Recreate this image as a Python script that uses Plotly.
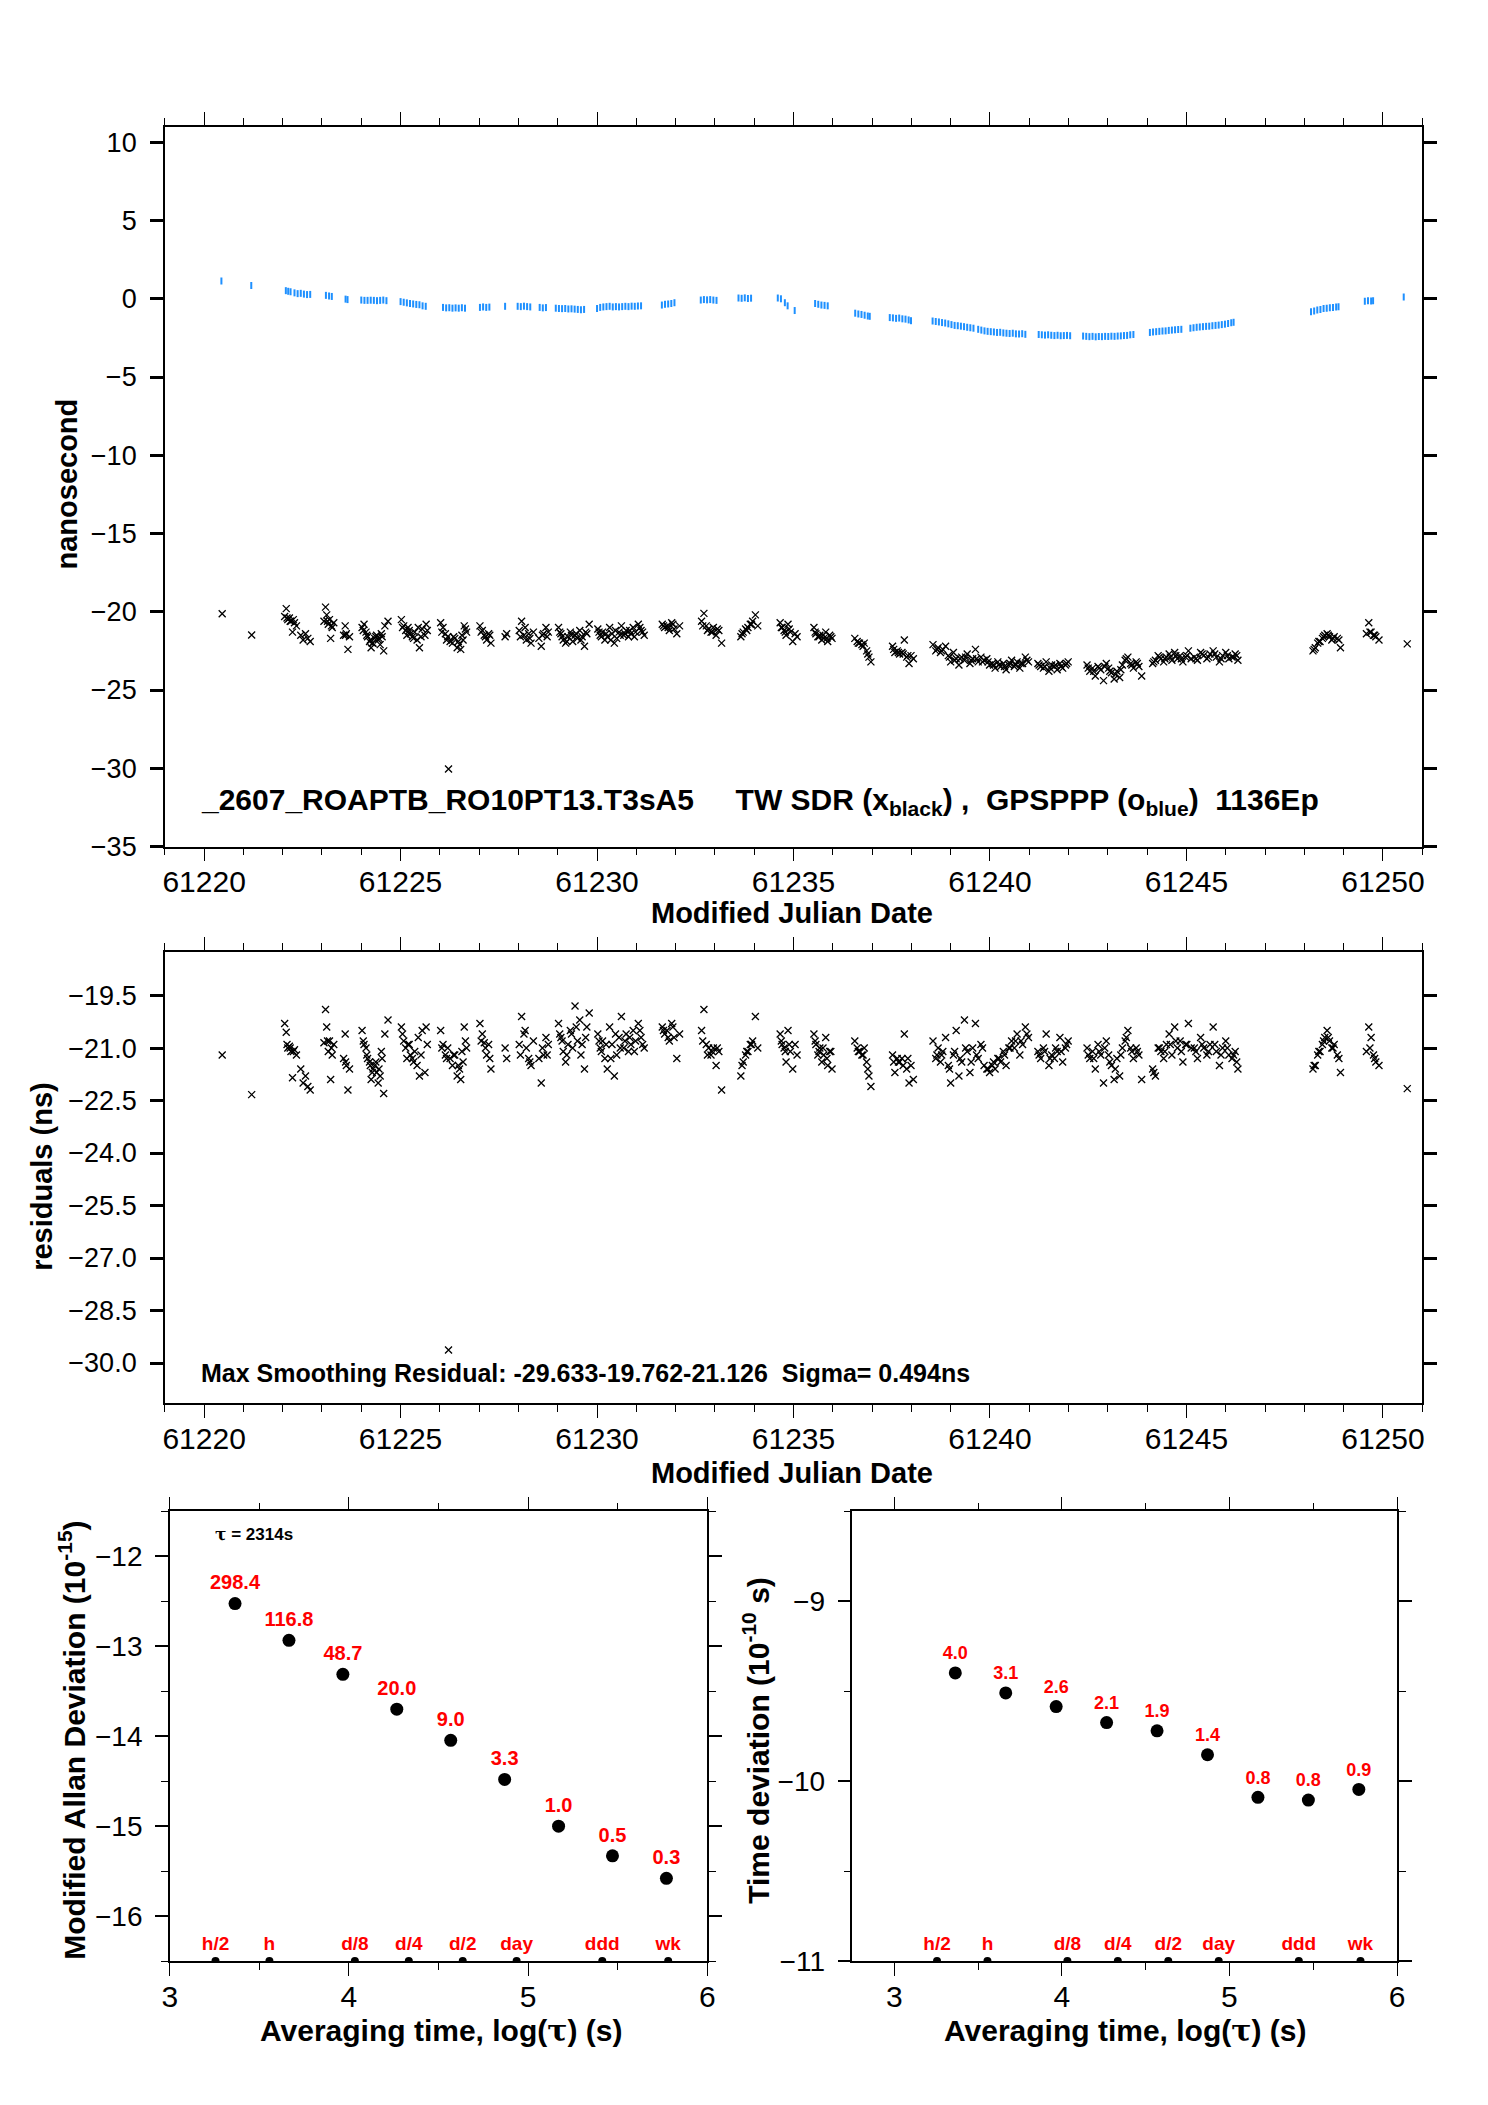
import plotly.graph_objects as go

FONT = "Liberation Sans, Arial, sans-serif"
BLUE = "#1E90FF"
RED = "#FF0000"

# TW SDR session points (x marks), MJD and offset in ns; residuals share the MJDs
mjd_tw = [
    61220.46,
    61221.21,
    61222.05, 61222.09, 61222.13, 61222.17, 61222.21, 61222.25, 61222.30, 61222.35,
    61222.46, 61222.52, 61222.58, 61222.64, 61222.70,
    61223.05, 61223.09, 61223.12, 61223.16, 61223.19, 61223.22, 61223.26, 61223.30,
    61223.55, 61223.59, 61223.62, 61223.66, 61223.70,
    61224.02, 61224.07, 61224.12, 61224.16, 61224.21, 61224.25, 61224.30, 61224.34, 61224.39, 61224.43, 61224.48, 61224.53, 61224.60, 61224.68,
    61225.02, 61225.08, 61225.13, 61225.19, 61225.25, 61225.30, 61225.36, 61225.42, 61225.48, 61225.55, 61225.62, 61225.68,
    61226.02, 61226.08, 61226.14, 61226.20, 61226.22, 61226.26, 61226.32, 61226.38, 61226.44, 61226.50, 61226.56, 61226.62, 61226.68,
    61227.02, 61227.08, 61227.13, 61227.19, 61227.24, 61227.30,
    61227.66, 61227.70,
    61228.02, 61228.08, 61228.14, 61228.20, 61228.26, 61228.32, 61228.38,
    61228.52, 61228.58, 61228.64, 61228.70, 61228.76,
    61229.02, 61229.08, 61229.14, 61229.20, 61229.26, 61229.32, 61229.38, 61229.44, 61229.50, 61229.56, 61229.62, 61229.68, 61229.74, 61229.80,
    61230.02, 61230.08, 61230.14, 61230.20, 61230.26, 61230.32, 61230.38, 61230.44, 61230.50, 61230.56, 61230.62, 61230.68, 61230.74, 61230.80, 61230.86, 61230.92, 61230.98, 61231.05, 61231.12, 61231.20,
    61231.66, 61231.72, 61231.78, 61231.84, 61231.90, 61231.96, 61232.03, 61232.10,
    61232.66, 61232.72, 61232.78, 61232.84, 61232.90, 61232.96, 61233.03, 61233.10, 61233.17,
    61233.66, 61233.72, 61233.78, 61233.84, 61233.90, 61233.96, 61234.03, 61234.09,
    61234.66, 61234.71, 61234.76, 61234.81, 61234.86, 61234.92, 61234.98, 61235.04, 61235.09,
    61235.52, 61235.57, 61235.62, 61235.67, 61235.72, 61235.77, 61235.82, 61235.87, 61235.92, 61235.98,
    61236.56, 61236.62, 61236.68, 61236.74, 61236.80, 61236.86, 61236.92, 61236.97,
    61237.52, 61237.58, 61237.64, 61237.70, 61237.76, 61237.82, 61237.88, 61237.94, 61237.99, 61238.05,
    61238.55, 61238.62, 61238.68, 61238.74, 61238.80, 61238.87,
    61238.94, 61239.00, 61239.07, 61239.14, 61239.21, 61239.28, 61239.35, 61239.42, 61239.49, 61239.56, 61239.63, 61239.70, 61239.77, 61239.85,
    61239.92, 61239.99, 61240.06, 61240.13, 61240.20, 61240.27, 61240.34, 61240.41, 61240.48, 61240.55, 61240.62, 61240.69, 61240.76, 61240.83, 61240.90, 61240.98,
    61241.22, 61241.29, 61241.36, 61241.43, 61241.50, 61241.57, 61241.64, 61241.71, 61241.78, 61241.85, 61241.92, 61241.99,
    61242.47, 61242.54, 61242.61, 61242.68, 61242.75, 61242.82, 61242.89, 61242.96,
    61243.02, 61243.09, 61243.16, 61243.23, 61243.30, 61243.37, 61243.44, 61243.51, 61243.58, 61243.65, 61243.72, 61243.79, 61243.86,
    61244.14, 61244.21, 61244.28, 61244.35, 61244.42, 61244.49, 61244.56, 61244.63, 61244.70, 61244.77, 61244.84, 61244.91, 61244.98, 61245.05, 61245.12,
    61245.20, 61245.28, 61245.36, 61245.44, 61245.52, 61245.60, 61245.68, 61245.76, 61245.84, 61245.92, 61246.00, 61246.08, 61246.16, 61246.24, 61246.31,
    61248.22, 61248.28, 61248.34, 61248.40, 61248.46, 61248.52, 61248.58, 61248.64, 61248.70, 61248.76, 61248.84, 61248.92,
    61249.58, 61249.64, 61249.70, 61249.76, 61249.82, 61249.90,
    61250.62,
]
tw_ns = [
    -20.13,
    -21.48,
    -20.3, -19.8, -20.5, -20.4, -20.6, -21.3, -20.7, -20.9,
    -21.5, -21.8, -21.4, -21.7, -21.9,
    -20.6, -19.7, -20.2, -20.8, -20.5, -21.7, -21.0, -20.7,
    -21.5, -20.9, -21.4, -22.4, -21.6,
    -21.0, -20.8, -21.3, -21.6, -21.9, -22.3, -22.0, -21.7, -21.5, -21.8, -22.1, -21.6, -20.9, -20.6,
    -20.5, -20.9, -21.2, -21.0, -21.4, -21.6, -21.3, -21.8, -22.3, -21.1, -21.5, -21.2,
    -20.7, -21.0, -21.4, -21.6, -30.05, -21.9, -22.0, -21.7, -22.3, -22.1, -21.5, -20.9, -21.3,
    -20.9, -21.2, -21.5, -21.8, -21.4, -22.0,
    -21.6, -21.4,
    -21.2, -20.6, -21.5, -21.8, -21.4, -22.0, -21.3,
    -21.7, -22.2, -21.4, -21.0, -21.3,
    -21.0, -21.4, -21.8, -22.0, -21.6, -21.3, -21.9, -21.5, -21.7, -21.2, -21.6, -22.2, -21.4, -20.8,
    -21.1, -21.5, -21.3, -21.8, -21.6, -21.0, -21.4, -22.0, -21.7, -21.3, -20.9, -21.5, -21.2, -21.6, -21.4, -21.0, -21.3, -20.8, -21.2, -21.5,
    -20.8, -21.0, -20.9, -21.2, -20.7, -21.1, -21.4, -20.9,
    -20.6, -20.1, -20.9, -21.1, -21.3, -21.0, -21.5, -21.2, -22.0,
    -21.6, -21.3, -21.1, -21.0, -20.8, -20.6, -20.2, -20.9,
    -20.7, -21.0, -21.2, -21.5, -20.8, -21.3, -21.9, -21.4, -21.6,
    -21.0, -21.4, -21.6, -21.5, -21.8, -21.7, -21.3, -21.9, -21.5, -21.7,
    -21.7, -21.9, -22.0, -22.1, -22.0, -22.5, -22.9, -23.2,
    -22.2, -22.6, -22.5, -22.7, -22.6, -21.8, -22.9, -23.3, -22.8, -23.0,
    -22.1, -22.5, -22.3, -22.6, -22.4, -22.2,
    -22.8, -23.2, -22.6, -23.0, -23.4, -22.9, -23.1, -22.7, -23.3, -23.0, -22.4, -23.2, -22.9, -23.1,
    -23.0, -23.4, -23.3, -23.6, -23.2, -23.5, -23.3, -23.7, -23.4, -23.1, -23.5, -23.2, -23.6, -23.3, -22.9, -23.2,
    -23.3, -23.5, -23.6, -23.2, -23.8, -23.4, -23.5, -23.7, -23.3, -23.6, -23.4, -23.2,
    -23.4, -23.8, -23.6, -24.1, -23.5, -23.7, -24.4, -23.3,
    -23.6, -23.9, -24.3, -23.8, -24.2, -23.4, -23.1, -22.9, -23.3, -23.6, -23.2, -23.5, -24.1,
    -23.3, -23.1, -22.8, -23.0, -23.2, -22.9, -22.7, -23.1, -22.6, -23.0, -22.8, -23.2, -22.9, -22.5, -23.0,
    -22.9, -23.1, -22.6, -22.8, -23.0, -22.7, -22.5, -22.9, -23.2, -22.8, -22.6, -23.0, -22.9, -22.7, -23.1,
    -22.5, -22.3, -22.0, -21.9, -21.7, -21.5, -21.4, -21.6, -21.8, -21.6, -21.7, -22.3,
    -21.4, -20.7, -21.3, -21.5, -21.6, -21.8,
    -22.05,
]
res_ns = [
    -21.2,
    -22.33,
    -20.3, -20.55, -21.0, -20.95, -21.1, -21.85, -21.05, -21.2,
    -21.6, -22.0, -21.8, -22.1, -22.2,
    -20.85, -19.9, -20.4, -21.1, -20.8, -21.9, -21.2, -20.9,
    -21.3, -20.6, -21.5, -22.2, -21.6,
    -20.5, -20.9, -21.0, -21.3, -21.4, -21.9, -21.6, -21.5, -21.7, -22.0, -21.8, -21.3, -20.6, -20.2,
    -20.4, -20.8, -21.0, -20.9, -21.2, -21.3, -21.1, -21.5, -21.8, -20.5, -21.7, -20.9,
    -20.5, -20.9, -21.2, -21.0, -29.63, -21.3, -21.5, -21.2, -21.8, -21.6, -21.1, -20.4, -21.0,
    -20.3, -20.6, -20.85, -21.2, -20.9, -21.6,
    -21.0, -21.3,
    -20.9, -20.1, -20.6, -21.0, -21.3, -21.5, -20.8,
    -21.3, -22.0, -21.2, -20.7, -20.9,
    -20.3, -20.7, -21.1, -21.4, -20.9, -20.5, -21.0, -19.8, -20.8, -20.2, -20.9, -21.6, -20.4, -20.0,
    -20.6, -21.0, -20.8, -21.3, -21.6, -20.4, -20.9, -21.8, -21.2, -20.7, -20.1, -21.0, -20.6, -21.1, -20.9, -20.5, -20.8, -20.3, -20.7, -21.0,
    -20.4, -20.6, -20.5, -20.8, -20.3, -20.7, -21.3, -20.6,
    -20.5, -19.9, -20.9, -21.0, -21.2, -21.0, -21.5, -21.1, -22.2,
    -21.8, -21.4, -21.2, -21.1, -20.9, -20.8, -20.1, -21.0,
    -20.6, -20.9, -21.0, -21.4, -20.5, -21.1, -21.6, -20.9, -21.2,
    -20.6, -20.9, -21.2, -21.0, -21.4, -21.2, -20.7, -21.5, -21.1, -21.6,
    -20.8, -21.0, -21.1, -21.2, -21.0, -21.4, -21.8, -22.1,
    -21.2, -21.7, -21.3, -21.4, -21.3, -20.6, -21.6, -22.0, -21.5, -21.9,
    -20.8, -21.3, -21.0, -21.4, -21.1, -20.7,
    -21.5, -22.0, -21.2, -20.5, -21.8, -21.4, -20.2, -21.1, -21.7, -21.0, -20.3, -21.3, -20.9, -21.5,
    -21.6, -21.7, -21.5, -21.6, -21.3, -21.4, -21.1, -21.5, -21.0, -20.8, -21.0, -20.6, -21.2, -20.9, -20.4, -20.7,
    -21.1, -21.3, -21.0, -20.6, -21.5, -21.2, -21.3, -21.1, -20.7, -21.4, -21.0, -20.8,
    -21.0, -21.3, -21.1, -21.6, -20.9, -21.2, -22.0, -20.8,
    -21.2, -21.5, -21.9, -21.3, -21.8, -21.0, -20.8, -20.5, -21.0, -21.3, -21.0, -21.2, -21.9,
    -21.6, -21.8, -21.0, -21.1, -21.3, -20.9, -20.6, -21.2, -20.4, -21.0, -20.8, -21.4, -20.9, -20.3, -21.0,
    -21.0, -21.3, -20.7, -21.0, -21.2, -20.9, -20.4, -21.1, -21.5, -21.0, -20.8, -21.2, -21.3, -21.1, -21.6,
    -21.6, -21.5, -21.2, -21.1, -20.9, -20.7, -20.5, -20.8, -21.0, -20.9, -21.2, -21.7,
    -21.1, -20.4, -20.7, -21.2, -21.4, -21.5,
    -22.16,
]

# extra TW points in the dense session cores
mjd_tw_b = [
    61222.11, 61222.19, 61222.27, 61223.14, 61223.24, 61223.60,
    61224.05, 61224.14, 61224.23, 61224.28, 61224.37, 61224.45, 61224.51, 61224.57,
    61225.05, 61225.16, 61225.22, 61225.33, 61225.45, 61225.52, 61225.65,
    61226.05, 61226.17, 61226.35, 61226.47, 61226.53, 61226.59, 61226.65,
    61227.05, 61227.16, 61227.27, 61228.05, 61228.17, 61228.29, 61228.61, 61228.73,
    61229.05, 61229.11, 61229.23, 61229.35, 61229.47, 61229.59, 61229.71,
    61230.05, 61230.11, 61230.23, 61230.35, 61230.47, 61230.59, 61230.71, 61230.83, 61230.95, 61231.09, 61231.16,
    61231.69, 61231.81, 61231.93, 61232.69, 61232.81, 61232.93, 61233.06,
    61233.69, 61233.81, 61233.93, 61234.69, 61234.79, 61234.89,
    61235.55, 61235.65, 61235.75, 61235.85, 61235.95, 61236.65, 61236.77, 61236.89,
    61237.55, 61237.67, 61237.79, 61237.91, 61238.65, 61238.77,
    61238.97, 61239.10, 61239.24, 61239.38, 61239.52, 61239.66, 61239.81,
    61239.95, 61240.09, 61240.23, 61240.37, 61240.51, 61240.65, 61240.79, 61240.94,
    61241.25, 61241.39, 61241.53, 61241.67, 61241.81, 61241.95,
    61242.50, 61242.64, 61242.78, 61242.92, 61243.05, 61243.19, 61243.33, 61243.47, 61243.61, 61243.75,
    61244.17, 61244.31, 61244.45, 61244.59, 61244.73, 61244.87, 61245.01,
    61245.24, 61245.40, 61245.56, 61245.72, 61245.88, 61246.04, 61246.20, 61246.28,
    61248.25, 61248.37, 61248.49, 61248.61, 61248.73, 61248.88, 61249.67, 61249.79,
]
tw_ns_b = [
    -20.4, -20.6, -20.5, -20.6, -20.9, -21.5,
    -21.2, -21.5, -21.8, -22.0, -21.6, -21.7, -21.4, -22.5,
    -21.0, -21.5, -21.2, -21.7, -21.0, -21.6, -20.8,
    -21.3, -21.8, -21.6, -21.9, -22.4, -21.8, -21.1,
    -21.3, -21.6, -21.5, -21.6, -21.0, -21.7, -21.5, -21.6,
    -21.3, -21.6, -21.9, -21.5, -21.4, -21.8, -21.3,
    -21.3, -21.6, -21.4, -21.8, -21.2, -21.5, -21.4, -21.2, -21.6, -21.0, -21.3,
    -20.9, -21.0, -20.8, -20.9, -21.2, -21.3, -21.1,
    -21.4, -21.2, -20.8, -21.0, -21.3, -21.1,
    -21.3, -21.6, -21.5, -21.7, -21.6, -22.0, -22.2, -22.7,
    -22.4, -22.6, -22.7, -22.8, -22.4, -22.5,
    -22.9, -23.1, -23.0, -22.9, -23.1, -23.0, -23.2,
    -23.2, -23.4, -23.4, -23.5, -23.3, -23.4, -23.3, -23.1,
    -23.4, -23.5, -23.6, -23.4, -23.5, -23.3,
    -23.6, -23.8, -23.6, -23.5, -23.8, -24.0, -23.7, -23.0, -23.4, -23.3,
    -23.2, -22.9, -23.0, -22.9, -22.8, -23.0, -22.8,
    -23.0, -22.7, -22.9, -22.7, -23.0, -22.8, -22.9, -22.8,
    -22.4, -21.9, -21.6, -21.5, -21.7, -21.8, -21.3, -21.5,
]
res_ns_b = [
    -20.9, -21.0, -21.1, -20.8, -21.0, -21.4,
    -20.8, -21.2, -21.5, -21.7, -21.4, -21.6, -21.1, -22.3,
    -20.6, -21.3, -20.9, -21.4, -20.7, -21.2, -20.4,
    -21.0, -21.3, -21.2, -21.5, -21.9, -21.4, -20.8,
    -20.8, -21.0, -21.3, -21.2, -20.5, -21.4, -21.0, -21.2,
    -20.6, -20.8, -21.2, -20.6, -20.4, -21.2, -20.7,
    -20.8, -21.1, -20.9, -21.3, -20.6, -21.0, -20.8, -20.7, -21.1, -20.5, -20.9,
    -20.5, -20.7, -20.4, -20.8, -21.2, -21.1, -21.0,
    -21.5, -21.1, -20.9, -20.8, -21.1, -20.9,
    -20.8, -21.1, -21.0, -21.3, -21.1, -21.1, -21.2, -21.6,
    -21.4, -21.4, -21.5, -21.3, -21.2, -21.2,
    -21.6, -21.1, -21.3, -21.0, -21.4, -21.2, -21.0,
    -21.6, -21.4, -21.3, -21.2, -21.0, -20.8, -20.8, -20.6,
    -21.2, -21.1, -21.3, -21.0, -21.1, -20.9,
    -21.2, -21.3, -21.1, -21.0, -21.4, -21.6, -21.2, -20.7, -21.1, -21.1,
    -21.7, -21.0, -21.1, -20.9, -20.8, -21.1, -20.9,
    -21.1, -20.9, -21.1, -20.9, -21.2, -21.0, -21.2, -21.4,
    -21.5, -21.1, -20.8, -20.7, -21.0, -21.3, -21.0, -21.3,
]

# GPSPPP points (blue)
mjd_ppp = [
    61220.44, 61221.20,
    61222.08, 61222.14, 61222.20, 61222.30, 61222.38, 61222.46, 61222.54, 61222.62, 61222.70,
    61223.10, 61223.18, 61223.25, 61223.60, 61223.65,
    61224.00, 61224.08, 61224.16, 61224.24, 61224.32, 61224.40, 61224.48, 61224.56, 61224.64,
    61225.00, 61225.08, 61225.16, 61225.24, 61225.32, 61225.40, 61225.48, 61225.56, 61225.64,
    61226.08, 61226.16, 61226.24, 61226.32, 61226.40, 61226.48, 61226.56, 61226.64,
    61227.02, 61227.10, 61227.18, 61227.26, 61227.66, 61227.98,
    61228.06, 61228.14, 61228.22, 61228.30, 61228.54, 61228.62, 61228.70, 61228.95,
    61229.03, 61229.11, 61229.19, 61229.27, 61229.35, 61229.43, 61229.51, 61229.59, 61229.67,
    61230.00, 61230.08, 61230.16, 61230.24, 61230.32, 61230.40, 61230.48, 61230.56, 61230.64, 61230.72, 61230.80, 61230.88, 61230.96, 61231.04, 61231.12,
    61231.65, 61231.73, 61231.81, 61231.89, 61231.97,
    61232.64, 61232.72, 61232.80, 61232.88, 61232.96, 61233.04,
    61233.60, 61233.68, 61233.76, 61233.84, 61233.92,
    61234.60, 61234.68, 61234.78, 61234.85, 61235.03,
    61235.55, 61235.63, 61235.71, 61235.79, 61235.87,
    61236.57, 61236.65, 61236.73, 61236.81, 61236.89, 61236.94,
    61237.45, 61237.53, 61237.61, 61237.69, 61237.77, 61237.85, 61237.93, 61237.99,
    61238.54, 61238.62, 61238.70, 61238.78, 61238.86, 61238.94, 61239.02, 61239.10, 61239.18, 61239.26, 61239.34, 61239.42, 61239.50, 61239.58,
    61239.70, 61239.78, 61239.86, 61239.94, 61240.02, 61240.10, 61240.18, 61240.26, 61240.34, 61240.42, 61240.50, 61240.58, 61240.66, 61240.74, 61240.82, 61240.90,
    61241.24, 61241.32, 61241.40, 61241.48, 61241.56, 61241.64, 61241.72, 61241.80, 61241.88, 61241.96, 61242.04,
    61242.37, 61242.45, 61242.53, 61242.61, 61242.69, 61242.77, 61242.85, 61242.93, 61243.01, 61243.09, 61243.17, 61243.25, 61243.33, 61243.41, 61243.49, 61243.57, 61243.65,
    61244.07, 61244.15, 61244.23, 61244.31, 61244.39, 61244.47, 61244.55, 61244.63, 61244.71, 61244.79, 61244.87,
    61245.10, 61245.18, 61245.26, 61245.34, 61245.42, 61245.50, 61245.58, 61245.66, 61245.74, 61245.82, 61245.90, 61245.98, 61246.06, 61246.14, 61246.20,
    61248.17, 61248.25, 61248.33, 61248.41, 61248.49, 61248.57, 61248.65, 61248.73, 61248.81, 61248.87,
    61249.54, 61249.62, 61249.70, 61249.75,
    61250.53,
]
ppp_ns = [
    1.13, 0.85,
    0.52, 0.48, 0.45, 0.38, 0.33, 0.35, 0.30, 0.27, 0.28,
    0.22, 0.18, 0.15, -0.02, -0.05,
    -0.08, -0.10, -0.10, -0.09, -0.10, -0.12, -0.10, -0.08, -0.12,
    -0.18, -0.22, -0.26, -0.30, -0.33, -0.36, -0.38, -0.45, -0.48,
    -0.55, -0.58, -0.57, -0.60, -0.58, -0.60, -0.57, -0.60,
    -0.55, -0.52, -0.55, -0.53, -0.48, -0.48,
    -0.50, -0.47, -0.50, -0.52, -0.55, -0.58, -0.56, -0.60,
    -0.62, -0.63, -0.62, -0.65, -0.64, -0.66, -0.68, -0.70, -0.68,
    -0.62, -0.55, -0.52, -0.50, -0.48, -0.52, -0.50, -0.52, -0.50, -0.48, -0.50, -0.47, -0.48, -0.46, -0.45,
    -0.40, -0.35, -0.33, -0.30, -0.25,
    -0.08, -0.05, -0.07, -0.05, -0.08, -0.10,
    0.05, 0.03, 0.06, 0.02, 0.04,
    0.05, 0.00, -0.25, -0.45, -0.75,
    -0.30, -0.35, -0.40, -0.42, -0.45,
    -0.92, -0.97, -1.00, -1.05, -1.10, -1.12,
    -1.20, -1.22, -1.25, -1.23, -1.28, -1.30, -1.35, -1.40,
    -1.42, -1.45, -1.48, -1.52, -1.55, -1.60, -1.65, -1.70, -1.72, -1.75, -1.78, -1.82, -1.85, -1.88,
    -1.95, -2.00, -2.05, -2.08, -2.10, -2.12, -2.15, -2.14, -2.18, -2.20, -2.22, -2.20, -2.24, -2.25, -2.23, -2.27,
    -2.28, -2.30, -2.32, -2.30, -2.33, -2.35, -2.33, -2.36, -2.35, -2.34, -2.36,
    -2.38, -2.40, -2.42, -2.40, -2.43, -2.41, -2.42, -2.40, -2.41, -2.39, -2.40, -2.38, -2.37, -2.35, -2.34, -2.30, -2.28,
    -2.15, -2.12, -2.10, -2.08, -2.06, -2.05, -2.02, -2.00, -1.98, -1.96, -1.95,
    -1.88, -1.85, -1.82, -1.80, -1.78, -1.76, -1.75, -1.72, -1.70, -1.68, -1.65, -1.62, -1.58, -1.53, -1.50,
    -0.82, -0.78, -0.72, -0.68, -0.62, -0.60, -0.57, -0.55, -0.52, -0.50,
    -0.15, -0.13, -0.14, -0.12,
    0.12,
]

# stability panels (log10 values)
log_tau = [3.364, 3.665, 3.966, 4.267, 4.568, 4.869, 5.170, 5.471, 5.772]
mdev_log = [-12.525, -12.933, -13.312, -13.699, -14.046, -14.48, -15.0, -15.33, -15.58]
mdev_lbl = ["298.4", "116.8", "48.7", "20.0", "9.0", "3.3", "1.0", "0.5", "0.3"]
tdev_log = [-9.398, -9.509, -9.585, -9.674, -9.72, -9.853, -10.09, -10.105, -10.046]
tdev_lbl = ["4.0", "3.1", "2.6", "2.1", "1.9", "1.4", "0.8", "0.8", "0.9"]
mark_tau = [3.255, 3.556, 4.033, 4.334, 4.635, 4.936, 5.414, 5.782]
mark_lbl = ["h/2", "h", "d/8", "d/4", "d/2", "day", "ddd", "wk"]


def xax(domain, rng, dtick, tick0, minor, anchor, fs=30):
    return dict(domain=domain, range=rng, anchor=anchor, dtick=dtick, tick0=tick0,
                tickformat="d",
                ticks="outside", ticklen=13, tickwidth=1.3, tickcolor="black",
                minor=dict(dtick=minor, tick0=tick0, ticks="outside", ticklen=7,
                           tickwidth=1.3, tickcolor="black"),
                showline=True, linecolor="black", linewidth=1.5, mirror="ticks",
                showgrid=False, zeroline=False,
                tickfont=dict(size=fs, color="black"), ticklabelstandoff=-5)


def yax(domain, rng, dtick, tick0, anchor, fmt="", minor=None, fs=27, width=2.5, off=8):
    d = dict(domain=domain, range=rng, anchor=anchor, dtick=dtick, tick0=tick0,
             ticks="outside", ticklen=13, tickwidth=width, tickcolor="black",
             showline=True, linecolor="black", linewidth=1.5, mirror="ticks",
             showgrid=False, zeroline=False, tickformat=fmt,
             tickfont=dict(size=fs, color="black"), ticklabelstandoff=off)
    if minor:
        d["minor"] = dict(dtick=minor, tick0=tick0, ticks="outside", ticklen=7,
                          tickwidth=1.3, tickcolor="black")
    return d


fig = go.Figure()

xmark = dict(symbol="x-thin", size=7, line=dict(width=1.3, color="black"))

fig.add_trace(go.Scatter(x=mjd_tw + mjd_tw_b, y=tw_ns + tw_ns_b, mode="markers",
                         marker=xmark, xaxis="x", yaxis="y"))
fig.add_trace(go.Scatter(x=mjd_ppp, y=ppp_ns, mode="markers",
                         marker=dict(symbol="line-ns", size=5, line=dict(width=2, color=BLUE)),
                         xaxis="x", yaxis="y"))
fig.add_trace(go.Scatter(x=mjd_tw + mjd_tw_b, y=res_ns + res_ns_b, mode="markers",
                         marker=xmark, xaxis="x2", yaxis="y2"))

# Modified Allan deviation
fig.add_trace(go.Scatter(x=log_tau, y=mdev_log, mode="markers+text", text=mdev_lbl,
                         textposition="top center",
                         textfont=dict(size=20, color=RED, weight="bold"),
                         marker=dict(size=13, color="black"), xaxis="x3", yaxis="y3"))
fig.add_trace(go.Scatter(x=mark_tau, y=[-16.5] * len(mark_tau), mode="markers+text",
                         text=mark_lbl, textposition="top center",
                         textfont=dict(size=19, color=RED, weight="bold"),
                         marker=dict(size=8, color="black"), xaxis="x3", yaxis="y3"))

# time deviation
fig.add_trace(go.Scatter(x=log_tau, y=tdev_log, mode="markers+text", text=tdev_lbl,
                         textposition="top center",
                         textfont=dict(size=18, color=RED, weight="bold"),
                         marker=dict(size=13, color="black"), xaxis="x4", yaxis="y4"))
fig.add_trace(go.Scatter(x=mark_tau, y=[-11] * len(mark_tau), mode="markers+text",
                         text=mark_lbl, textposition="top center",
                         textfont=dict(size=19, color=RED, weight="bold"),
                         marker=dict(size=8, color="black"), xaxis="x4", yaxis="y4"))

top_dom = [0.5986, 0.9432]
mid_dom = [0.3321, 0.5482]
low_dom = [0.0651, 0.2803]
wide = [0.1011, 0.9553]
left = [0.1045, 0.4696]
right = [0.5682, 0.9382]

fig.update_layout(
    width=1488, height=2105,
    margin=dict(l=0, r=0, t=0, b=0),
    paper_bgcolor="white", plot_bgcolor="white",
    showlegend=False,
    font=dict(family=FONT, color="black"),
    xaxis=xax(wide, [61219, 61251], 5, 61220, 1, "y"),
    yaxis=yax(top_dom, [-35, 11], 5, 0, "x"),
    xaxis2=xax(wide, [61219, 61251], 5, 61220, 1, "y2"),
    yaxis2=yax(mid_dom, [-31.15, -18.25], 1.5, -30, "x2", fmt=".1f"),
    xaxis3=xax(left, [3, 6], 1, 3, 0.5, "y3"),
    yaxis3=yax(low_dom, [-16.5, -11.5], 1, -12, "x3", minor=0.5, fs=28, width=1.5, off=7),
    xaxis4=xax(right, [2.75, 6.0], 1, 3, 0.5, "y4"),
    yaxis4=yax(low_dom, [-11, -8.5], 1, -11, "x4", minor=0.5, fs=28, width=1.5, off=7),
)

nb = "\u00a0"
tau = "<span style=\"font-family:'DejaVu Serif'\">τ</span>"
notes = [
    # (x, y, text, size, angle, xanchor)
    (0.5275, 0.567, "<b>Modified Julian Date</b>", 29, 0, "center"),
    (0.5275, 0.2989, "<b>Modified Julian Date</b>", 29, 0, "center"),
    (0.0348, 0.772, "<b>nanosecond</b>", 29, -90, "center"),
    (0.018, 0.4407, "<b>residuals (ns)</b>", 29, -90, "center"),
    (0.1244, 0.6202,
     "<b>_2607_ROAPTB_RO10PT13.T3sA5" + nb * 5 + "TW SDR (x<sub>black</sub>) ," + nb * 2
     + "GPSPPP (o<sub>blue</sub>)" + nb * 2 + "1136Ep</b>", 30, 0, "left"),
    (0.1244, 0.3467,
     "<b>Max Smoothing Residual: -29.633-19.762-21.126" + nb * 2 + "Sigma= 0.494ns</b>",
     25, 0, "left"),
    (0.038, 0.171, "<b>Modified Allan Deviation (10<sup>-15</sup>)</b>", 30, -90, "center"),
    (0.5027, 0.171, "<b>Time deviation (10<sup>-10</sup> s)</b>", 30, -90, "center"),
    (0.2884, 0.0317, "<b>Averaging time, log(" + tau + ") (s)</b>", 30, 0, "center"),
    (0.7533, 0.0317, "<b>Averaging time, log(" + tau + ") (s)</b>", 30, 0, "center"),
    (0.134, 0.2694, "<b>" + tau + " = 2314s</b>", 17, 0, "left"),
]
for x, y, txt, size, ang, xa in notes:
    fig.add_annotation(x=x, y=y, xref="paper", yref="paper", text=txt, showarrow=False,
                       textangle=ang, xanchor=xa, yanchor="middle",
                       font=dict(size=size, color="black", family=FONT))

fig.write_html("out.html")
